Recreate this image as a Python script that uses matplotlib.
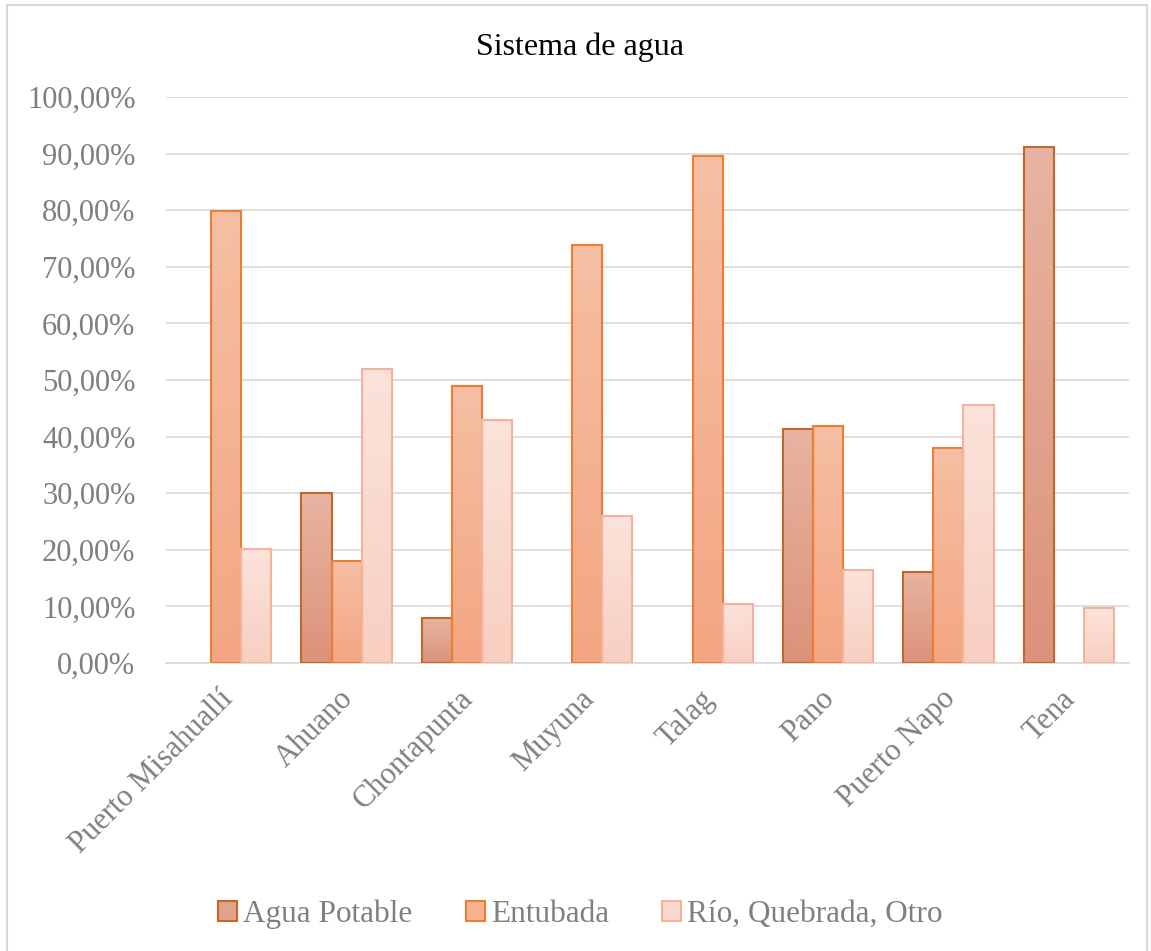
import numpy as np
import matplotlib
matplotlib.use("Agg")
import matplotlib.pyplot as plt
from matplotlib.colors import LinearSegmentedColormap
from matplotlib.patches import Patch, Rectangle
from matplotlib.ticker import FuncFormatter
from matplotlib.transforms import ScaledTranslation

plt.rcParams['font.family'] = ['Liberation Serif', 'DejaVu Serif']

categories = ["Puerto Misahuallí", "Ahuano", "Chontapunta", "Muyuna",
              "Talag", "Pano", "Puerto Napo", "Tena"]
series_names = ["Agua Potable", "Entubada", "Río, Quebrada, Otro"]
agua_potable = [0.0, 30.0, 7.9, 0.0, 0.0, 41.4, 16.0, 91.1]
entubada = [79.8, 18.0, 48.9, 73.9, 89.6, 41.9, 38.0, 0.0]
rio_otro = [20.1, 51.9, 43.0, 26.0, 10.4, 16.5, 45.6, 9.8]
yticks = [0, 10, 20, 30, 40, 50, 60, 70, 80, 90, 100]

series = [agua_potable, entubada, rio_otro]
tops = ["#E8B4A1", "#F6BFA4", "#FBE3DB"]
bottoms = ["#DC927A", "#F4A682", "#F8CFC1"]
edges = ["#C4672C", "#ED7D31", "#F2B29C"]
mids = ["#E2A38D", "#F5B293", "#F9D9CE"]

W, H = 1151, 951
fig = plt.figure(figsize=(W / 100, H / 100), dpi=100)
fig.patch.set_facecolor("white")
# outer frame
fig.add_artist(Rectangle((7 / W, -0.01), (1147 - 7) / W, 1.01 - 5 / H,
                         transform=fig.transFigure, fill=False,
                         edgecolor="#D9D9D9", linewidth=1.5))

ax = fig.add_axes([166 / W, 1 - 663 / H, (1129 - 166) / W, (663 - 97) / H])

x = np.arange(len(categories))
bw = 0.25
offsets = [-bw, 0, bw]
grad = np.linspace(0, 1, 256).reshape(-1, 1)

for i, vals in enumerate(series):
    cmap = LinearSegmentedColormap.from_list(f"g{i}", [bottoms[i], tops[i]])
    bars = ax.bar(x + offsets[i], vals, width=bw, facecolor="none",
                  edgecolor=edges[i], linewidth=1.5, zorder=4)
    for b in bars:
        h = b.get_height()
        if h <= 0:
            b.set_visible(False)
            continue
        im = ax.imshow(grad, cmap=cmap, origin="lower", aspect="auto",
                       extent=[b.get_x(), b.get_x() + b.get_width(), 0, h],
                       zorder=3 + i * 0.01, interpolation="bilinear")
        im.set_clip_path(b)

ax.set_xlim(-0.5, len(categories) - 0.5)
ax.set_ylim(0, 100)
ax.set_yticks(yticks)
ax.yaxis.set_major_formatter(FuncFormatter(lambda v, p: f"{v:.2f}%".replace(".", ",")))
ax.grid(axis="y", color="#D9D9D9", linewidth=1.2, zorder=0)
ax.set_axisbelow(True)
for s in ["top", "right", "left"]:
    ax.spines[s].set_visible(False)
ax.spines["bottom"].set_color("#D9D9D9")
ax.spines["bottom"].set_linewidth(1.2)
ax.tick_params(axis="y", length=0, pad=22, labelsize=22, labelcolor="#7F7F7F")
ax.tick_params(axis="x", length=0, pad=14, labelsize=22, labelcolor="#7F7F7F")
ax.set_xticks(x)
ax.set_xticklabels(categories, rotation=45, ha="right", rotation_mode="anchor")
off = ScaledTranslation(-0.08, -0.02, fig.dpi_scale_trans)
for lbl in ax.get_xticklabels():
    lbl.set_transform(lbl.get_transform() + off)

fig.text(0.5 + 5 / W, 1 - 47 / H, "Sistema de agua", ha="center", va="center",
         fontsize=23, color="black")

handles = [Patch(facecolor=mids[i], edgecolor=edges[i], linewidth=1.5)
           for i in range(3)]
fig.legend(handles, series_names, loc="center", bbox_to_anchor=(0.5 + 5 / W, 1 - 914 / H),
           ncol=3, frameon=False, fontsize=22.5, labelcolor="#7F7F7F",
           handlelength=0.6, handleheight=0.6, handletextpad=0.2,
           columnspacing=1.7)

fig.savefig("out.png", dpi=100, facecolor="white")
